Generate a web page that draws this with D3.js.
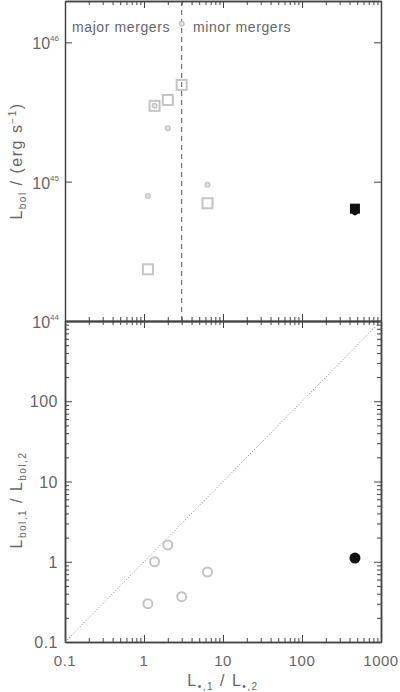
<!DOCTYPE html>
<html>
<head>
<meta charset="utf-8">
<script src="https://cdn.jsdelivr.net/npm/d3@7"></script>
<style>
body{margin:0;background:#fff;}
svg{display:block;}
text{font-family:"Liberation Sans",Arial,sans-serif;fill:#666;}
.axis path,.axis line{stroke:#444;}
</style>
</head>
<body>
<div id="graph"></div>
<script>
// mass ratio L*,1/L*,2
ratio=[1.12,1.36,2.0,3.0,6.36];
// top panel: small circles (bolometric of one component) and squares (total)
lbolDot=[7.9e44,3.5e45,2.42e45,1.36e46,9.5e44];
lbolSq=[2.35e44,3.5e45,3.86e45,4.95e45,7.0e44];
// black object
blackRatio=[468];
blackDot=[6.0e44];
blackSq=[6.4e44];
// bottom panel: Lbol,1/Lbol,2
lbolRatio=[0.30,1.0,1.62,0.367,0.745];
blackLbolRatio=[1.11];

xTicks=[0.1,1,10,100,1000];
topTicks=[1e44,1e45,1e46];
botTicks=[0.1,1,10,100,1000];

width=400;height=692;
pLeft=65;pRight=381;pTop=1;pMid=321;pBottom=642;

$svg=d3.select('#graph').append('svg').attr('width',width).attr('height',height);

x=d3.scaleLog().domain([0.1,1000]).range([pLeft,pRight]);
yTop=d3.scaleLog().domain([1e44,1.98e46]).range([pMid,pTop]);
yBot=d3.scaleLog().domain([0.1,1000]).range([pBottom,pMid]);

minorOf=function(lo,hi){
	var arr=[];
	for(var e=lo;e<hi;e++){
		for(var k=2;k<10;k++)arr.push(k*Math.pow(10,e));
	}
	return arr;
};
xMinor=minorOf(-1,3);
botMinor=minorOf(-1,3);

drawAxis=function(axis,tx,ty){
	var g=$svg.append('g').attr('class','axis').attr('transform','translate('+tx+','+ty+')').call(axis);
	g.selectAll('text').remove();
	g.select('.domain').attr('stroke-width',1.5);
	return g;
};

// --- top panel frame and ticks
drawAxis(d3.axisBottom(x).tickValues(xTicks).tickSize(-7).tickSizeOuter(0),0,pMid);
drawAxis(d3.axisBottom(x).tickValues(xMinor).tickSize(-4).tickSizeOuter(0),0,pMid);
drawAxis(d3.axisTop(x).tickValues(xTicks).tickSize(-7).tickSizeOuter(0),0,pTop);
drawAxis(d3.axisTop(x).tickValues(xMinor).tickSize(-4).tickSizeOuter(0),0,pTop);
drawAxis(d3.axisLeft(yTop).tickValues(topTicks).tickSize(-7).tickSizeOuter(0),pLeft,0);
drawAxis(d3.axisRight(yTop).tickValues(topTicks).tickSize(-7).tickSizeOuter(0),pRight,0);

// --- bottom panel
drawAxis(d3.axisBottom(x).tickValues(xTicks).tickSize(-7).tickSizeOuter(0),0,pBottom);
drawAxis(d3.axisBottom(x).tickValues(xMinor).tickSize(-4).tickSizeOuter(0),0,pBottom);
drawAxis(d3.axisTop(x).tickValues(xTicks).tickSize(-7).tickSizeOuter(0),0,pMid);
drawAxis(d3.axisTop(x).tickValues(xMinor).tickSize(-4).tickSizeOuter(0),0,pMid);
drawAxis(d3.axisLeft(yBot).tickValues(botTicks).tickSize(-7).tickSizeOuter(0),pLeft,0);
drawAxis(d3.axisLeft(yBot).tickValues(botMinor).tickSize(-4).tickSizeOuter(0),pLeft,0);
drawAxis(d3.axisRight(yBot).tickValues(botTicks).tickSize(-7).tickSizeOuter(0),pRight,0);
drawAxis(d3.axisRight(yBot).tickValues(botMinor).tickSize(-4).tickSizeOuter(0),pRight,0);

// tick labels
$svg.append('g').selectAll('text').data(xTicks).enter().append('text')
	.attr('x',function(d){return x(d);}).attr('y',pBottom+24)
	.attr('text-anchor','middle').attr('font-size',15).attr('letter-spacing',0.5)
	.text(function(d){return d;});

$svg.append('g').selectAll('text').data(topTicks).enter().append('text')
	.attr('x',pLeft-6).attr('y',function(d){return yTop(d)+7;})
	.attr('text-anchor','end').attr('font-size',16)
	.each(function(d){
		var t=d3.select(this);
		t.append('tspan').text('10');
		t.append('tspan').attr('font-size',8).attr('dy',-8).text(Math.round(Math.log10(d)));
	});

$svg.append('g').selectAll('text').data(botTicks.slice(0,4)).enter().append('text')
	.attr('x',pLeft-7).attr('y',function(d){return yBot(d)+6;})
	.attr('text-anchor','end').attr('font-size',16).attr('letter-spacing',0.5)
	.text(function(d){return d;});

// axis titles
t=$svg.append('text').attr('transform','translate(22,'+((pTop+pMid)/2)+') rotate(-90)')
	.attr('text-anchor','middle').attr('font-size',16).attr('letter-spacing',1.5);
t.append('tspan').text('L');
t.append('tspan').attr('font-size',10).attr('dy',4).text('bol');
t.append('tspan').attr('dy',-4).text(' / (erg s');
t.append('tspan').attr('font-size',10).attr('dy',-6).text('−1');
t.append('tspan').attr('dy',6).text(')');

t=$svg.append('text').attr('transform','translate(22,'+500+') rotate(-90)')
	.attr('text-anchor','middle').attr('font-size',16).attr('letter-spacing',1.5);
t.append('tspan').text('L');
t.append('tspan').attr('font-size',10).attr('dy',4).text('bol,1');
t.append('tspan').attr('dy',-4).text(' / L');
t.append('tspan').attr('font-size',10).attr('dy',4).text('bol,2');

t=$svg.append('text').attr('x',(pLeft+pRight)/2).attr('y',686)
	.attr('text-anchor','middle').attr('font-size',16).attr('letter-spacing',1.5);
t.append('tspan').text('L');
t.append('tspan').attr('font-size',10).attr('dy',4).text('•,1');
t.append('tspan').attr('dy',-4).text(' / L');
t.append('tspan').attr('font-size',10).attr('dy',4).text('•,2');

// dashed divider and labels
$svg.append('line').attr('x1',x(3)).attr('x2',x(3)).attr('y1',pTop).attr('y2',pMid)
	.attr('stroke','#555').attr('stroke-dasharray','5,4').attr('stroke-width',1);
$svg.append('text').attr('x',72).attr('y',32).attr('font-size',14).attr('letter-spacing',0.6).text('major mergers');
$svg.append('text').attr('x',193).attr('y',32).attr('font-size',14).attr('letter-spacing',0.6).text('minor mergers');

// diagonal dotted 1:1 line
$svg.append('line').attr('x1',x(0.1)).attr('y1',yBot(0.1)).attr('x2',x(1000)).attr('y2',yBot(1000))
	.attr('stroke','#888').attr('stroke-dasharray','1,2').attr('stroke-width',1);

grey='#c4c4c4';
// top panel squares
$svg.append('g').selectAll('rect').data(ratio).enter().append('rect')
	.attr('x',function(d){return x(d)-5;}).attr('y',function(d,i){return yTop(lbolSq[i])-5;})
	.attr('width',10).attr('height',10).attr('fill','none').attr('stroke',grey).attr('stroke-width',2);
// top panel small ringed dots
$svg.append('g').selectAll('circle').data(ratio).enter().append('circle')
	.attr('cx',function(d){return x(d);}).attr('cy',function(d,i){return yTop(lbolDot[i]);})
	.attr('r',2.3).attr('fill','#e6e6e6').attr('stroke',grey).attr('stroke-width',1.4);
// black object
$svg.append('g').selectAll('rect').data(blackRatio).enter().append('rect')
	.attr('x',function(d){return x(d)-5;}).attr('y',function(d,i){return yTop(blackSq[i])-5;})
	.attr('width',10).attr('height',10).attr('fill','#111');
$svg.append('g').selectAll('circle').data(blackRatio).enter().append('circle')
	.attr('cx',function(d){return x(d);}).attr('cy',function(d,i){return yTop(blackDot[i]);})
	.attr('r',2.8).attr('fill','#111');

// bottom panel
$svg.append('g').selectAll('circle').data(ratio).enter().append('circle')
	.attr('cx',function(d){return x(d);}).attr('cy',function(d,i){return yBot(lbolRatio[i]);})
	.attr('r',4.5).attr('fill','none').attr('stroke',grey).attr('stroke-width',2);
$svg.append('g').selectAll('circle.b').data(blackRatio).enter().append('circle')
	.attr('cx',function(d){return x(d);}).attr('cy',function(d,i){return yBot(blackLbolRatio[i]);})
	.attr('r',5.5).attr('fill','#111');
</script>
</body>
</html>
